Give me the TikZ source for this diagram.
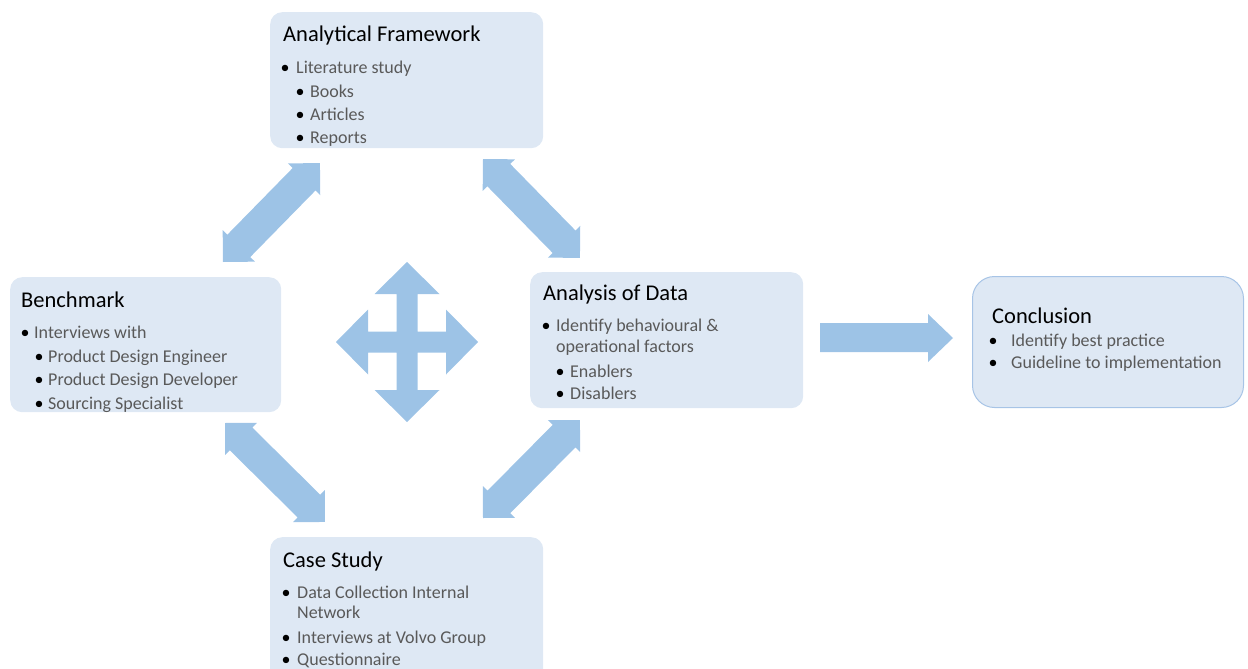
\documentclass[tikz,border=0pt]{standalone}
\usepackage{fontspec}
\setmainfont{Carlito}
\definecolor{boxfill}{HTML}{DEE8F4}
\definecolor{arrowfill}{HTML}{9DC3E6}
\definecolor{conclline}{HTML}{A7C4E6}
\definecolor{bodytext}{HTML}{595959}

% block double arrow between two tip points (image coordinates)
\newcommand\blockdbl[4]{%
  \pgfmathsetmacro\arrDX{#3-#1}%
  \pgfmathsetmacro\arrDY{#4-#2}%
  \pgfmathsetmacro\arrLen{veclen(\arrDX,\arrDY)}%
  \pgfmathsetmacro\arrAng{atan2(-\arrDY,\arrDX)}%
  \pgfmathsetmacro\arrBack{\arrLen-22.6}%
  \begin{scope}[shift={(#1,#2)}, rotate=\arrAng]
    \fill[arrowfill] (0,0) -- (22.6,22.6) -- (22.6,16) -- (\arrBack,16)
      -- (\arrBack,22.6) -- (\arrLen,0) -- (\arrBack,-22.6) -- (\arrBack,-16)
      -- (22.6,-16) -- (22.6,-22.6) -- cycle;
  \end{scope}}

% one bullet line: name, bullet x, text x, baseline y, text
\newcommand\bitem[5]{%
  \node[bul] (#1b) at (#2,#4) {\textbullet};
  \node[body] (#1) at (#3,#4) {#5};}

\tikzset{
  box/.style={fill=boxfill, rounded corners=12pt, anchor=north west, inner sep=0pt},
  ttl/.style={anchor=base west, inner sep=0pt, font=\fontsize{22.5}{26}\selectfont, text=black},
  body/.style={anchor=base west, inner sep=0pt, font=\fontsize{18}{21}\selectfont, text=bodytext},
  bul/.style={anchor=base, inner sep=0pt, font=\fontsize{18}{21}\selectfont, text=black},
}

\begin{document}
\begin{tikzpicture}[x=1pt, y=-1pt]
\useasboundingbox (0,0) rectangle (1248,669);
\clip (0,0) rectangle (1248,669);

% boxes
\node[box, minimum width=273pt, minimum height=136pt] (af) at (270,12) {};
\node[box, minimum width=271pt, minimum height=135pt] (bm) at (10,277) {};
\node[box, minimum width=273pt, minimum height=136pt] (ad) at (530,272) {};
\node[box, minimum width=273pt, minimum height=160pt] (cs) at (270,537) {};
\node[box, draw=conclline, line width=1pt, rounded corners=22pt,
      minimum width=271pt, minimum height=131pt] (cc) at (972,276) {};

% Analytical Framework
\node[ttl] (aft) at (283,42) {Analytical Framework};
\bitem{af1}{285}{296}{74}{Literature study}
\bitem{af2}{300}{310}{97}{Books}
\bitem{af3}{300}{310}{120}{Articles}
\bitem{af4}{300}{310}{143}{Reports}

% Benchmark
\node[ttl] (bmt) at (21,307) {Benchmark};
\bitem{bm1}{25}{34}{338}{Interviews with}
\bitem{bm2}{39}{48}{362}{Product Design Engineer}
\bitem{bm3}{39}{48}{385}{Product Design Developer}
\bitem{bm4}{39}{48}{409}{Sourcing Specialist}

% Analysis of Data
\node[ttl] (adt) at (543,300) {Analysis of Data};
\bitem{ad1}{546}{556}{331}{Identify behavioural \&}
\node[body] (ad1b2) at (556,352) {operational factors};
\bitem{ad2}{560}{570}{377}{Enablers}
\bitem{ad3}{560}{570}{399}{Disablers}

% Case Study
\node[ttl] (cst) at (283,567) {Case Study};
\bitem{cs1}{286}{297}{598}{Data Collection Internal}
\node[body] (cs1b2) at (297,618) {Network};
\bitem{cs2}{286}{297}{643}{Interviews at Volvo Group}
\bitem{cs3}{286}{297}{665}{Questionnaire}

% Conclusion
\node[ttl] (cct) at (992,323) {Conclusion};
\bitem{cc1}{993}{1011}{346}{Identify best practice}
\bitem{cc2}{993}{1011}{368}{Guideline to implementation}

% diagonal double arrows between the four boxes
\blockdbl{223}{262}{320}{163}
\blockdbl{483}{159}{580}{258}
\blockdbl{225}{423}{325}{522}
\blockdbl{483}{518}{580}{420}

% four-way arrow in the centre
\begin{scope}[shift={(407,342)}]
\fill[arrowfill] (0,-80) -- (32.5,-48) -- (10.5,-48) -- (10.5,-10.5) -- (39,-10.5)
  -- (39,-32.5) -- (71,0) -- (39,32.5) -- (39,10.5) -- (10.5,10.5) -- (10.5,48)
  -- (32.5,48) -- (0,80) -- (-32.5,48) -- (-10.5,48) -- (-10.5,10.5) -- (-39,10.5)
  -- (-39,32.5) -- (-71,0) -- (-39,-32.5) -- (-39,-10.5) -- (-10.5,-10.5)
  -- (-10.5,-48) -- (-32.5,-48) -- cycle;
\end{scope}

% arrow towards the conclusion
\fill[arrowfill] (820,323) -- (928,323) -- (928,314) -- (953,338) -- (928,362)
  -- (928,352) -- (820,352) -- cycle;
\end{tikzpicture}
\end{document}
